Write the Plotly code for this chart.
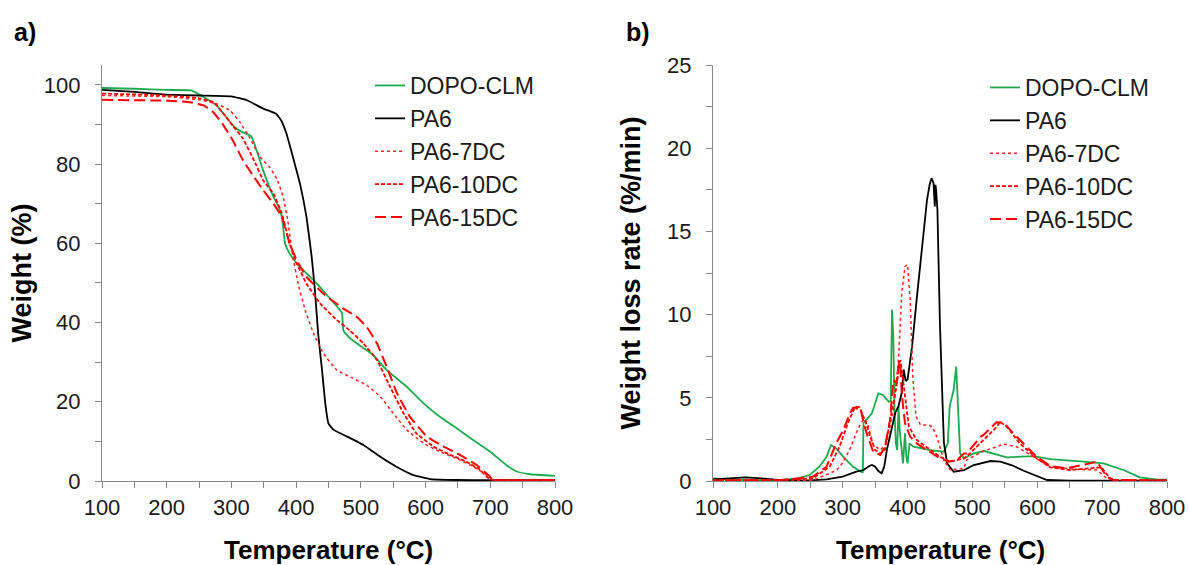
import plotly.graph_objects as go

# ---------------- TGA (panel a) ----------------
T_dopo_tga = [100, 150, 200, 238, 253, 277, 298, 308, 318, 331, 339, 349, 365, 373, 378, 383, 390, 401, 432, 466, 471, 473, 481, 494, 519, 540, 571, 597, 622, 648, 674, 700, 725, 741, 761, 800]
W_dopo_tga = [99.2, 99.0, 98.7, 98.6, 97.3, 94.8, 90.6, 88.9, 88.0, 87.0, 83.4, 78.4, 71.7, 69.2, 66.6, 59.9, 57.4, 54.9, 49.8, 43.5, 42.3, 38.0, 36.4, 34.7, 31.8, 28.0, 23.8, 19.6, 16.2, 13.3, 10.3, 7.4, 4.0, 2.4, 1.7, 1.3]

T_pa6_tga = [100, 150, 200, 250, 300, 324, 349, 359, 369, 377, 385, 395, 406, 416, 424, 429, 434, 440, 445, 450, 458, 479, 504, 530, 555, 581, 607, 648, 700, 800]
W_pa6_tga = [98.7, 98.2, 97.5, 97.3, 97.1, 96.1, 94.0, 93.4, 92.7, 91.0, 87.7, 81.8, 75.0, 66.6, 56.6, 48.2, 37.2, 28.0, 19.6, 14.5, 12.9, 11.2, 9.1, 6.1, 3.6, 1.5, 0.5, 0.25, 0.2, 0.2]

T_7dc_tga = [100, 200, 251, 277, 298, 313, 329, 344, 359, 370, 380, 387, 395, 403, 414, 427, 442, 463, 488, 509, 530, 550, 571, 597, 622, 648, 674, 695, 705, 800]
W_7dc_tga = [97.3, 97.0, 96.2, 95.2, 93.5, 90.6, 86.4, 81.8, 79.2, 76.3, 71.7, 65.8, 56.6, 49.8, 43.1, 37.2, 32.2, 28.0, 25.9, 24.2, 21.3, 17.1, 12.9, 9.5, 7.4, 5.7, 3.6, 1.5, 0.25, 0.2]

T_10dc_tga = [100, 200, 251, 272, 286, 302, 318, 335, 349, 365, 378, 390, 401, 416, 437, 463, 483, 504, 525, 545, 566, 586, 612, 638, 663, 684, 700, 800]
W_10dc_tga = [97.8, 97.3, 96.6, 95.6, 93.1, 89.7, 86.4, 80.9, 75.9, 72.5, 67.5, 59.9, 54.9, 49.8, 44.8, 40.6, 38.0, 34.7, 30.5, 23.8, 17.1, 12.0, 8.7, 6.6, 4.9, 2.8, 0.4, 0.3]

T_15dc_tga = [100, 200, 236, 257, 272, 286, 302, 318, 335, 349, 365, 378, 390, 401, 416, 442, 473, 494, 509, 525, 540, 556, 576, 602, 628, 653, 679, 697, 705, 800]
W_15dc_tga = [96.2, 96.0, 95.6, 94.8, 93.1, 90.2, 86.0, 80.9, 76.7, 73.4, 70.0, 66.6, 59.9, 55.7, 51.5, 47.3, 43.5, 41.4, 38.9, 34.7, 28.8, 22.1, 16.2, 11.2, 8.7, 6.6, 4.0, 1.5, 0.25, 0.2]

# ---------------- DTG (panel b) ----------------
T_dopo_dtg = [100, 150, 200, 231, 249, 264, 275, 282, 290, 303, 316, 329, 331, 332, 345, 355, 362, 371, 374, 376, 378, 380, 382, 384, 386, 388, 390, 393, 396, 398, 400, 403, 409, 435, 456, 462, 465, 467, 471, 475, 477, 479, 481, 487, 502, 518, 543, 553, 594, 620, 671, 702, 733, 758, 784, 800]
R_dopo_dtg = [0.15, 0.05, 0.05, 0.16, 0.36, 0.86, 1.46, 2.16, 1.96, 1.36, 0.86, 0.56, 0.5, 3.47, 4.07, 5.27, 5.17, 4.77, 4.8, 10.3, 8.7, 4.0, 2.26, 1.86, 4.5, 3.0, 2.06, 1.06, 2.86, 1.5, 1.06, 2.26, 2.06, 1.86, 1.76, 2.26, 4.5, 4.87, 5.47, 6.87, 5.27, 3.0, 1.66, 1.36, 1.66, 1.8, 1.56, 1.42, 1.5, 1.32, 1.16, 1.06, 0.66, 0.22, 0.1, 0.08]

T_pa6_dtg = [100, 125, 150, 175, 200, 225, 250, 275, 300, 321, 332, 341, 345, 350, 355, 360, 364, 368, 372, 376, 381, 386, 391, 394, 397, 400, 407, 414, 422, 430, 434, 437, 440, 442, 443, 444, 446, 450, 456, 461, 471, 487, 502, 528, 543, 560, 580, 600, 615, 650, 700, 800]
R_pa6_dtg = [0.1, 0.15, 0.22, 0.16, 0.06, 0.03, 0.04, 0.1, 0.26, 0.56, 0.66, 0.9, 0.96, 0.86, 0.6, 0.46, 0.86, 1.86, 2.6, 3.3, 4.1, 4.5, 5.3, 6.7, 6.0, 6.1, 8.1, 10.9, 13.7, 16.9, 17.8, 18.2, 17.9, 16.5, 17.8, 17.5, 16.3, 9.3, 2.3, 1.06, 0.56, 0.66, 0.96, 1.2, 1.16, 0.96, 0.6, 0.3, 0.06, 0.02, 0.02, 0.02]

T_7dc_dtg = [100, 150, 200, 254, 280, 291, 300, 311, 320, 327, 333, 338, 347, 358, 368, 378, 386, 391, 396, 400, 404, 408, 413, 420, 430, 438, 445, 456, 466, 487, 491, 513, 517, 538, 548, 568, 594, 620, 661, 692, 707, 722, 800]
R_7dc_dtg = [0.03, 0.03, 0.03, 0.05, 0.46, 0.66, 1.1, 1.9, 2.8, 3.4, 3.75, 3.5, 2.2, 1.86, 2.3, 4.27, 7.27, 11.3, 12.9, 13.0, 10.9, 6.27, 3.87, 3.37, 3.37, 3.27, 2.67, 1.26, 0.66, 0.76, 1.26, 1.76, 1.8, 2.06, 2.22, 2.06, 1.46, 0.86, 0.7, 0.66, 0.16, 0.05, 0.03]

T_10dc_dtg = [100, 150, 200, 254, 280, 295, 308, 318, 322, 326, 336, 344, 350, 358, 365, 373, 381, 389, 394, 402, 414, 435, 450, 466, 487, 491, 513, 517, 538, 542, 553, 573, 599, 620, 650, 681, 699, 712, 722, 800]
R_10dc_dtg = [0.05, 0.05, 0.05, 0.16, 0.86, 2.06, 3.47, 4.37, 4.47, 4.43, 3.47, 2.5, 1.86, 1.66, 1.86, 3.67, 5.27, 7.27, 5.67, 3.27, 2.47, 1.86, 1.46, 1.16, 1.36, 1.46, 2.3, 2.5, 3.27, 3.57, 3.27, 2.26, 1.36, 0.82, 0.66, 0.76, 0.82, 0.16, 0.06, 0.03]

T_15dc_dtg = [100, 150, 200, 218, 254, 275, 290, 301, 311, 316, 319, 324, 327, 334, 337, 347, 358, 365, 373, 378, 383, 387, 389, 391, 396, 404, 414, 430, 450, 463, 476, 487, 491, 513, 517, 537, 548, 568, 599, 620, 645, 681, 692, 707, 717, 800]
R_15dc_dtg = [0.03, 0.03, 0.05, 0.1, 0.26, 0.86, 2.26, 3.07, 4.07, 4.4, 4.43, 4.3, 4.37, 3.27, 2.86, 1.76, 1.56, 2.06, 3.67, 6.07, 5.87, 7.2, 6.87, 5.27, 3.47, 2.67, 2.26, 1.86, 1.36, 1.16, 1.26, 1.66, 1.66, 2.67, 2.77, 3.53, 3.5, 2.67, 1.46, 0.9, 0.76, 1.06, 1.16, 0.26, 0.06, 0.03]

names = ["DOPO-CLM", "PA6", "PA6-7DC", "PA6-10DC", "PA6-15DC"]
x_title = "Temperature (°C)"
tga = [(T_dopo_tga, W_dopo_tga), (T_pa6_tga, W_pa6_tga), (T_7dc_tga, W_7dc_tga),
       (T_10dc_tga, W_10dc_tga), (T_15dc_tga, W_15dc_tga)]
dtg = [(T_dopo_dtg, R_dopo_dtg), (T_pa6_dtg, R_pa6_dtg), (T_7dc_dtg, R_7dc_dtg),
       (T_10dc_dtg, R_10dc_dtg), (T_15dc_dtg, R_15dc_dtg)]

colors = ["#1DAA4E", "#000000", "#FF2020", "#FF0000", "#FF0000"]
dashes = ["solid", "solid", "dot", "4px,2px", "11px,5px"]
widths = [1.8, 1.8, 1.5, 1.8, 2.0]

FONT = "Arial, Liberation Sans, sans-serif"
GREY = "#888888"

fig = go.Figure()
for i, (name, (x, y)) in enumerate(zip(names, tga)):
    fig.add_trace(go.Scatter(x=x, y=y, mode="lines", name=name,
                             line=dict(color=colors[i], dash=dashes[i], width=widths[i], shape="spline", smoothing=0.3),
                             xaxis="x", yaxis="y", legend="legend", legendgroup="a" + str(i)))
for i, (name, (x, y)) in enumerate(zip(names, dtg)):
    fig.add_trace(go.Scatter(x=x, y=y, mode="lines", name=name,
                             line=dict(color=colors[i], dash=dashes[i], width=widths[i]),
                             xaxis="x2", yaxis="y2", legend="legend2", legendgroup="b" + str(i)))

W, H = 1189, 565


def px_x(p):
    return p / W


def px_y(p):
    return (H - p) / H


ydom = [px_y(481), px_y(65)]


def xax(dom, anchor):
    return dict(domain=dom, range=[100, 800], dtick=100, tick0=100, anchor=anchor,
                showline=True, linecolor=GREY, linewidth=1.3,
                ticks="outside", ticklen=6, tickcolor=GREY, tickwidth=1.3,
                minor=dict(dtick=50, ticks="outside", ticklen=6, tickcolor=GREY, tickwidth=1.3),
                showgrid=False, zeroline=False,
                tickfont=dict(family=FONT, size=22, color="#1a1a1a"),
                ticklabelstandoff=0, ticklabeloverflow="allow")


def yax(dom, rng, dt, mdt, title, anchor, standoff):
    return dict(domain=dom, range=rng, dtick=dt, tick0=0, anchor=anchor,
                showline=True, linecolor=GREY, linewidth=1.3,
                ticks="outside", ticklen=6, tickcolor=GREY, tickwidth=1.3,
                minor=dict(dtick=mdt, ticks="outside", ticklen=6, tickcolor=GREY, tickwidth=1.3),
                showgrid=False, zeroline=False,
                tickfont=dict(family=FONT, size=22, color="#1a1a1a"),
                ticklabelstandoff=10, ticklabeloverflow="allow",
                title=dict(text="<b>" + title + "</b>", font=dict(family=FONT, size=27, color="#000"),
                           standoff=standoff))


leg_common = dict(font=dict(family=FONT, size=23, color="#1a1a1a"), bgcolor="rgba(0,0,0,0)",
                  tracegroupgap=0, itemwidth=30, xanchor="left", yanchor="top")

ann_font = dict(family=FONT, size=26, color="#000")
fig.update_layout(
    width=W, height=H,
    margin=dict(l=0, r=0, t=0, b=0, autoexpand=False),
    paper_bgcolor="white", plot_bgcolor="white",
    xaxis=xax([px_x(102), px_x(555)], "y"),
    yaxis=yax(ydom, [0, 105], 20, 10, "Weight (%)", "x", 4),
    xaxis2=xax([px_x(713), px_x(1167)], "y2"),
    yaxis2=yax(ydom, [0, 25], 5, 2.5, "Weight loss rate (%/min)", "x2", 18),
    legend=dict(x=px_x(370), y=px_y(64), **leg_common),
    legend2=dict(x=px_x(985), y=px_y(66), **leg_common),
    annotations=[
        dict(text="<b>" + x_title + "</b>", x=0.5, y=px_y(550), xref="x domain", yref="paper",
             xanchor="center", yanchor="middle", showarrow=False, font=ann_font),
        dict(text="<b>" + x_title + "</b>", x=0.5, y=px_y(550), xref="x2 domain", yref="paper",
             xanchor="center", yanchor="middle", showarrow=False, font=ann_font),
        dict(text="<b>a)</b>", x=px_x(12), y=px_y(32), xref="paper", yref="paper",
             xanchor="left", yanchor="middle", showarrow=False, font=dict(family=FONT, size=25, color="#000")),
        dict(text="<b>b)</b>", x=px_x(624), y=px_y(32), xref="paper", yref="paper",
             xanchor="left", yanchor="middle", showarrow=False, font=dict(family=FONT, size=25, color="#000")),
    ],
)

fig.write_html("out.html", config={"displayModeBar": False},
               post_script="document.body.style.margin='0';document.body.style.overflow='hidden';")
